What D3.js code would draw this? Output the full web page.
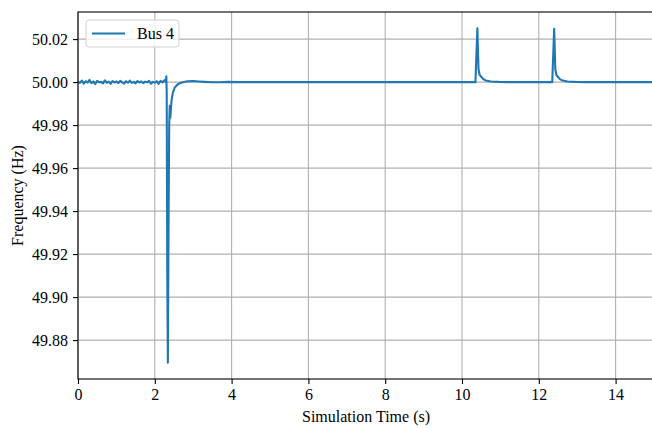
<!DOCTYPE html>
<html><head><meta charset="utf-8">
<script src="https://cdn.jsdelivr.net/npm/d3@7"></script>
<style>body{margin:0;background:#fff}svg{display:block}text{font-family:'Liberation Serif','Times New Roman',serif}</style>
</head><body>
<svg id="c" width="652" height="428"></svg>
<script>
// Time (s) and frequency (Hz) for Bus 4
const noiseTimes = [0.00,0.05,0.10,0.15,0.20,0.25,0.30,0.35,0.40,0.45,0.50,0.55,0.60,0.65,0.70,0.75,0.80,0.85,0.90,0.95,1.00,1.05,1.10,1.15,1.20,1.25,1.30,1.35,1.40,1.45,1.50,1.55,1.60,1.65,1.70,1.75,1.80,1.85,1.90,1.95,2.00,2.05,2.10,2.15,2.20,2.25];
const noiseVals  = [50.0002,49.9996,50.0007,49.9993,50.0004,49.9998,50.0010,49.9995,50.0003,49.9991,50.0006,49.9999,50.0001,49.9994,50.0008,49.9997,50.0002,49.9992,50.0005,49.9998,50.0003,49.9995,50.0006,49.9999,49.9993,50.0004,49.9997,50.0007,49.9996,50.0001,49.9994,50.0005,49.9998,50.0003,49.9995,50.0002,49.9999,50.0006,49.9993,50.0001,49.9997,50.0004,49.9992,50.0006,49.9998,50.0009];
const eventTimes = [2.29,2.30,2.31,2.325,2.34,2.36,2.375,2.39,2.405,2.42,2.44,2.47,2.52,2.60,2.70,2.85,3.00,3.15,3.30,3.50,3.70,3.90,4.20,4.60,5.00,10.35,10.40,10.43,10.46,10.50,10.55,10.62,10.75,10.95,11.20,12.35,12.40,12.43,12.46,12.50,12.55,12.62,12.75,12.95,13.20,15.00];
const eventVals  = [50.0000,50.0027,49.9950,49.9100,49.8695,49.9400,49.9800,49.9890,49.9835,49.9880,49.9920,49.9950,49.9975,49.9990,49.9998,50.0004,50.0005,50.0003,50.0001,49.9999,49.9999,50.0001,50.0000,50.0000,50.0000,50.0000,50.0250,50.0060,50.0033,50.0025,50.0015,50.0007,50.0003,50.0001,50.0000,50.0000,50.0248,50.0060,50.0032,50.0024,50.0014,50.0007,50.0003,50.0001,50.0000,50.0000];
const xTicks = [0,2,4,6,8,10,12,14];
const yTicks = [49.88,49.90,49.92,49.94,49.96,49.98,50.00,50.02];
const seriesName = "Bus 4";

const times = noiseTimes.concat(eventTimes);
const vals = noiseVals.concat(eventVals);
const data = times.map((t,i)=>({t, f: vals[i]}));

const svg = d3.select("#c");
const L = 78, R = 654, T = 12, B = 379;
const x = d3.scaleLinear().domain([0,15]).range([L,R]);
const y = d3.scaleLinear().domain([49.8619,50.0326]).range([B,T]);
const font = "'Liberation Serif','Times New Roman',serif";
const fs = "16px";

// grid
svg.append("g").selectAll("line").data(xTicks).join("line")
  .attr("x1",d=>x(d)).attr("x2",d=>x(d)).attr("y1",T).attr("y2",B)
  .attr("stroke","#b0b0b0").attr("stroke-width",1.1);
svg.append("g").selectAll("line").data(yTicks).join("line")
  .attr("x1",L).attr("x2",R).attr("y1",d=>y(d)).attr("y2",d=>y(d))
  .attr("stroke","#b0b0b0").attr("stroke-width",1.1);

// line
svg.append("clipPath").attr("id","clp").append("rect")
  .attr("x",L).attr("y",T).attr("width",R-L).attr("height",B-T);
svg.append("path").datum(data)
  .attr("clip-path","url(#clp)")
  .attr("d", d3.line().x(d=>x(d.t)).y(d=>y(d.f)))
  .attr("fill","none").attr("stroke","#1f77b4").attr("stroke-width",2.1)
  .attr("stroke-linejoin","round").attr("stroke-linecap","square");

// axes
const xAxis = d3.axisBottom(x).tickValues(xTicks).tickSize(5).tickPadding(5).tickFormat(d3.format("d"));
const yAxis = d3.axisLeft(y).tickValues(yTicks).tickSize(5).tickPadding(5).tickFormat(d3.format(".2f"));
const gx = svg.append("g").attr("transform",`translate(0,${B})`).call(xAxis);
const gy = svg.append("g").attr("transform",`translate(${L},0)`).call(yAxis);
[gx,gy].forEach(g=>{
  g.attr("font-family",font).attr("font-size",16);
  g.select(".domain").remove();
  g.selectAll(".tick line").attr("stroke","#000").attr("stroke-width",1.1);
  g.selectAll(".tick text").attr("fill","#000").style("font-family",font).style("font-size",fs);
});
// spines
svg.append("rect").attr("x",L).attr("y",T).attr("width",R-L).attr("height",B-T)
  .attr("fill","none").attr("stroke","#000").attr("stroke-width",1.1);

// labels
svg.append("text").attr("x",366).attr("y",421.5).attr("text-anchor","middle")
  .style("font-family",font).style("font-size",fs).text("Simulation Time (s)");
svg.append("text").attr("transform",`translate(23,${(T+B)/2}) rotate(-90)`).attr("text-anchor","middle")
  .style("font-family",font).style("font-size",fs).text("Frequency (Hz)");

// legend
const lg = svg.append("g");
lg.append("rect").attr("x",86).attr("y",20).attr("width",93).attr("height",27).attr("rx",3)
  .attr("fill","#fff").attr("fill-opacity",0.8).attr("stroke","#d0d0d0").attr("stroke-width",1);
lg.append("line").attr("x1",92).attr("x2",125).attr("y1",33.5).attr("y2",33.5)
  .attr("stroke","#1f77b4").attr("stroke-width",2.1);
lg.append("text").attr("x",137).attr("y",39).style("font-family",font).style("font-size",fs).text(seriesName);
</script>
</body></html>
